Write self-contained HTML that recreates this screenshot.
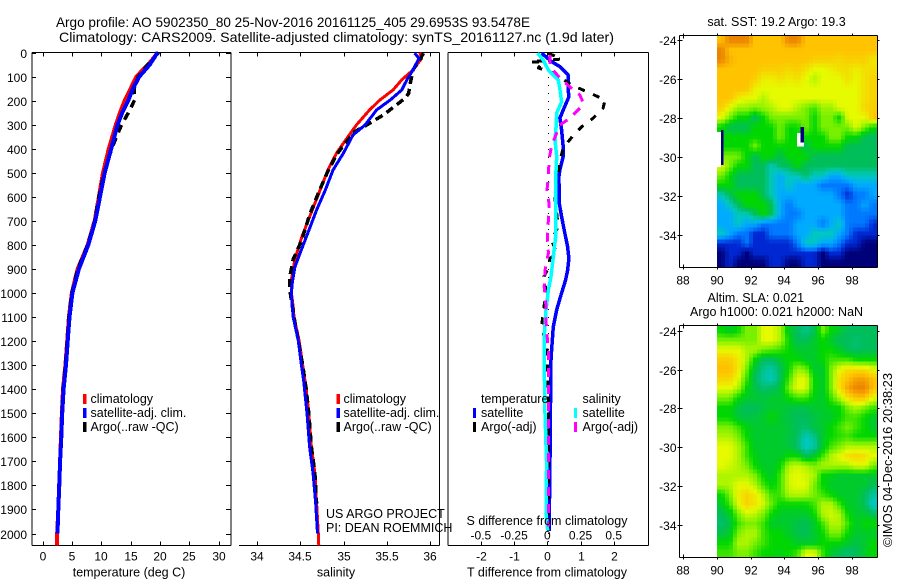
<!DOCTYPE html>
<html>
<head>
<meta charset="utf-8">
<title>Argo profile</title>
<style>
html,body{margin:0;padding:0;background:#fff;}
svg{display:block;}
text{font-family:"Liberation Sans",sans-serif;font-size:12.5px;fill:#000;}
.title{font-size:14px;}
.tl{font-size:12px;}
</style>
</head>
<body>
<svg id="chart" xmlns="http://www.w3.org/2000/svg" width="900" height="580" viewBox="0 0 900 580">
<rect x="0" y="0" width="900" height="580" fill="#fff"/>
<text class="title" x="56" y="27" textLength="474" lengthAdjust="spacingAndGlyphs">Argo profile: AO 5902350_80 25-Nov-2016 20161125_405 29.6953S 93.5478E</text>
<text class="title" x="59" y="42" textLength="555" lengthAdjust="spacingAndGlyphs">Climatology: CARS2009. Satellite-adjusted climatology: synTS_20161127.nc (1.9d later)</text>
<g id="maps"></g>
<g id="profiles"></g>

<text x="129" y="576.5" text-anchor="middle">temperature (deg C)</text>
<text x="336" y="576.5" text-anchor="middle">salinity</text>
<text x="547" y="576.5" text-anchor="middle">T difference from climatology</text>
<text x="547" y="525" text-anchor="middle">S difference from climatology</text>

<g>
<rect x="83" y="394" width="3.5" height="10" fill="#f00"/>
<text x="90.5" y="403">climatology</text>
<rect x="83" y="408" width="3.5" height="10" fill="#00f"/>
<text x="90.5" y="417">satellite-adj. clim.</text>
<rect x="83" y="422" width="3.5" height="10" fill="#000"/>
<text x="90.5" y="431">Argo(..raw -QC)</text>
</g>
<g>
<rect x="336.5" y="394" width="3.5" height="10" fill="#f00"/>
<text x="343.5" y="403">climatology</text>
<rect x="336.5" y="408" width="3.5" height="10" fill="#00f"/>
<text x="343.5" y="417">satellite-adj. clim.</text>
<rect x="336.5" y="422" width="3.5" height="10" fill="#000"/>
<text x="343.5" y="431">Argo(..raw -QC)</text>
</g>
<g>
<text x="481" y="403">temperature</text>
<rect x="473" y="408" width="3" height="10" fill="#00f"/>
<text x="481" y="417">satellite</text>
<rect x="473" y="422" width="3" height="10" fill="#000"/>
<text x="481" y="431">Argo(-adj)</text>
<text x="582.5" y="403">salinity</text>
<rect x="574" y="408" width="3" height="10" fill="#0ff"/>
<text x="582.5" y="417">satellite</text>
<rect x="574" y="422" width="3" height="10" fill="#f0f"/>
<text x="582.5" y="431">Argo(-adj)</text>
</g>

<text x="326" y="518">US ARGO PROJECT</text>
<text x="326" y="532">PI: DEAN ROEMMICH</text>

<text x="776.5" y="26" text-anchor="middle">sat. SST: 19.2 Argo: 19.3</text>
<text x="707.5" y="302">Altim. SLA: 0.021</text>
<text x="690" y="316">Argo h1000: 0.021 h2000: NaN</text>
<text transform="translate(892 547) rotate(-90)" textLength="174" lengthAdjust="spacingAndGlyphs">©IMOS 04-Dec-2016 20:38:23</text>
</svg>

<script>
// ---------- profile data ----------
const depthTicks = [0,100,200,300,400,500,600,700,800,900,1000,1100,1200,1300,1400,1500,1600,1700,1800,1900,2000];
const tempTicks = [0,5,10,15,20,25,30];
const salTicks = [34,34.5,35,35.5,36];
const salTickLabels = ['34','34.5','35','35.5','36'];
const tDiffTicks = [-2,-1,0,1,2];
const sDiffTicks = [-0.5,-0.25,0,0.25,0.5];
const sDiffTickLabels = ['-0.5','-0.25','0','0.25','0.5'];

const tempClimDepth = [0,50,100,150,200,250,300,400,500,600,700,800,900,1000,1100,1200,1300,1400,1500,1600,1700,1800,1900,2000,2050];
const tempClimValue = [19.7,18.0,16.0,15.0,14.0,13.2,12.5,11.3,10.3,9.6,8.9,7.7,6.0,5.0,4.5,4.2,3.9,3.5,3.3,3.15,3.0,2.87,2.7,2.5,2.45];
const tempSatDepth = [0,50,100,150,200,250,300,400,500,600,700,800,900,1000,1100,1200,1300,1400,1500,1600,1700,1800,1900,2000];
const tempSatValue = [19.6,18.3,16.5,15.4,14.6,13.6,12.8,11.7,10.6,9.8,9.0,7.8,6.2,5.1,4.6,4.3,4.0,3.6,3.35,3.2,3.0,2.85,2.7,2.55];
const tempArgoDepth = [0,40,100,150,197,252,300,350,400,500,600,700,800,900,1000,1100,1200,1300,1400,1500,1600,1700,1800,1900];
const tempArgoValue = [19.8,18.3,16.3,15.6,15.7,14.6,13.5,12.6,11.8,10.5,9.6,8.9,7.7,6.0,5.0,4.5,4.2,3.9,3.5,3.3,3.15,3.0,2.87,2.7];

const salClimDepth = [0,24,73,114,156,197,239,301,356,418,488,572,683,767,860,944,1000,1058,1100,1200,1300,1400,1500,1640,1750,1875,2000,2050];
const salClimValue = [35.88,35.9,35.8,35.67,35.57,35.42,35.3,35.15,35.04,34.92,34.82,34.73,34.61,34.52,34.44,34.4,34.4,34.42,34.43,34.49,34.53,34.57,34.6,34.63,34.67,34.69,34.71,34.715];
const salSatDepth = [3,24,73,114,156,197,239,301,343,418,488,572,655,750,834,892,958,1000,1058,1100,1200,1300,1362,1500,1640,1750,1875,2000];
const salSatValue = [35.82,35.87,35.8,35.73,35.67,35.54,35.38,35.25,35.11,35.0,34.88,34.79,34.69,34.59,34.5,34.44,34.41,34.4,34.41,34.42,34.48,34.515,34.54,34.58,34.61,34.65,34.68,34.7];
const salArgoDepth = [3,30,73,128,170,190,218,260,301,329,377,425,502,585,675,780,860,935,985,1030,1100,1200,1300,1400,1500,1640,1750,1875];
const salArgoValue = [35.92,35.88,35.8,35.77,35.75,35.71,35.61,35.46,35.27,35.13,35.02,34.92,34.81,34.71,34.61,34.52,34.42,34.38,34.38,34.4,34.43,34.48,34.53,34.57,34.6,34.63,34.67,34.69];

const dtSatDepth = [3,38,59,94,156,184,239,273,322,392,433,488,516,627,683,738,808,856,905,946,1000,1071,1140,1237,1278,1400,1600,1800,1990];
const dtSatValue = [-0.17,0.13,0.38,0.63,0.63,0.65,0.48,0.38,0.43,0.48,0.48,0.38,0.35,0.36,0.43,0.51,0.61,0.65,0.61,0.55,0.43,0.28,0.18,0.13,0.11,0.1,0.09,0.07,0.06];
const dtArgoDepth = [3,27,39,39,64,85,135,163,197,231,273,308,350,397,453,501,516,585,724,780,834,856,897,932,995,1057,1133,1182,1208,1400,1990];
const dtArgoValue = [0.03,0.43,-0.52,-0.13,-0.27,0.18,0.73,1.19,1.74,1.68,1.38,1.04,0.75,0.48,0.38,0.33,0.31,0.21,0.33,0.13,0.28,0.08,0.03,-0.1,-0.04,-0.1,-0.17,-0.1,-0.02,0.03,0.03];
const dsSatDepth = [3,31,73,114,156,205,252,308,364,433,516,543,765,849,932,988,1071,1182,1278,1500,1708,1916,1988];
const dsSatValue = [-0.072,-0.03,0.008,0.083,0.096,0.108,0.071,0.066,0.058,0.071,0.063,0.063,0.063,0.045,0.028,0.008,-0.01,-0.023,-0.023,-0.017,-0.005,-0.01,0.003];
const dsArgoDepth = [10,59,106,156,177,210,231,273,301,385,439,501,516,572,627,696,771,834,905,974,1029,1112,1154,1237,1400,1970];
const dsArgoValue = [0.02,0.02,0.096,0.196,0.246,0.27,0.246,0.17,0.096,0.033,0.015,0.008,0.008,-0.002,0.013,0.008,0,0.008,-0.017,-0.023,-0.012,-0.01,-0.005,0.008,0.01,0.01];

// ---------- map data (colour-scale levels 0..10, 0.5 deg lon, ~0.5 deg lat) ----------
const lonTicks = [88,90,92,94,96,98];
const latTicks = [24,26,28,30,32,34];
const sstGrid = [
[9,10,10,10,9,9,9,9,10,10,9,9,9,9,9,9,9,9,9],
[10,9,9,9,9,9,9,9,9,9,9,9,9,9,9,9,9,9,9],
[10,9.3,9,9,9,9,9,9,9,9,9,8.8,8.8,8.8,8.6,8.8,8.8,8.8,8.3],
[9,9,9,9,9,8.8,8.8,8.8,8.6,8.8,8.5,8,8,8.2,8.5,8.5,8.2,8.5,8.5],
[9,9,9,9,8.8,8.2,8.2,8.5,8.2,8.5,8,7.5,8,8,8,8.5,8,8.5,8.7],
[9,9,9,9,8.2,8,8,8,8,8,8,8,8,8,8,8,8,8.5,8.7],
[9,9,8.3,8,8,7.5,8,8,8,8,8,8,8,8,8,8,8,8.5,8.7],
[8.8,8,7.3,7.3,7,7.3,7.5,8,8,7.5,7,6.5,7.3,7.3,8,8,8,8.7,8.8],
[8,7,6,6,5,6,7,7,7,7,7,6,7,7,6,8,8,8,9],
[6,5,5,5,6,6,6,7,6,6,7,6,7,7,7,7,8,7,6],
[6,6,6,6,6,6,6,7,6,6,6,6,6,7,7,6,6,5,5],
[6,6,6,6,7,6,6,6,6,6,5,6,6,6,6,5,5,5,5],
[7,7,7,6,5,6,6,5,6,6,6,5,5,5,5,5,5,5,5],
[8,7,6,6,5,5,4,5,5,6,5,5,5,5,5,5,5,5,5],
[7,6,5,5,5,5,4,3,4,4,5,4,4,3,3,4,4,4,4],
[6,6,5,5,5,5,4,3,4,3,3,3,2,2,2,2,3,3,3],
[4,5,6,6,6,5,4,3,3,3,3,3,3,3,2,1,2,2,3],
[3,4,5,6,6,6,5,3,2,3,3,3,3,3,3,2,2,3,2],
[3,3,4,4,5,6,5,3,2,2,3,3,3,3,3,2,2,2,2],
[3,3,4,3,3,2,2,2,2,3,3,3,2,3,4,2,2,2,1],
[4,3,2,2,1,1,2,2,2,3,3,4,4,4,3,2,1,1,1],
[1,1,1,2,1,1,1,1,1,2,4,4,3,3,2,1,1,0,0],
[0,1,1,0,1,1,1,1,1,1,1,1,0,1,1,0,0,0,0],
[0,1,0,0,0,0,1,1,0,0,1,1,0,0,0,0,0,0,0]
];
const slaGrid = [
[6,5.5,6,7,7,8,8,7.5,5.5,5,4.5,5,7,6,5.5,5,5,5,5],
[7,7,7,7,7,8,8,7.5,6,5,5,5.5,6,5.5,5,5,4.8,5,5],
[8,8,8,7.5,7.5,7,6.8,6.5,6,5.5,5.5,5.5,6,6,5.5,5,4.8,5,5],
[8.8,8.8,8.3,7.5,6,5,5,5.5,6,6,5.5,5.5,6,6.5,6.5,6.5,6,6,6],
[9.1,9.1,8.4,7,5.3,4.5,4.2,5,6,7.3,7,5.5,5.5,7,8,8.5,8.5,8.5,8],
[8.7,8.7,8,6.5,5,4.3,4,5,6.5,7.9,8,6,5.5,7,8.5,9,9.5,9.5,9],
[8,8,7.5,6,5.2,4.8,5,5.3,7,8,7.9,6,5.5,7,8.5,9.5,10,10,9],
[7,7,6,5.5,5.5,5.3,5.5,5.5,6,6.5,6.5,5.8,5.5,6.5,7.5,8.5,9,9,8],
[6,6,5.3,5,5,5.3,5.5,5.5,5.3,5.2,5.2,5.5,5.5,5.8,6,7,7.5,7,6.5],
[6,6,5.3,5.2,5.3,5.5,6,5.5,5.2,5,5,5.2,5.5,5.5,6,6.5,6.5,6,5.5],
[7,7,6.5,5.8,5.5,5.5,5.5,5.5,5.3,5,4.8,5.3,5.5,6,6.5,7,6.5,6,5.5],
[7.5,7.5,7,6,5.5,5.5,5.5,5.5,5.3,5,4,4.5,5.5,6,6.3,6.5,6,6,6],
[8,8,7.5,6.5,5.5,5.5,5.5,5.5,5.3,4.8,3.8,4.2,5.5,6.5,7,7.5,7.5,7.5,7.5],
[8,8,7.5,6.5,5.8,5.5,5.5,5.5,6,6,5,5.5,6.5,7.5,8,8.5,8.7,8.5,8],
[8,7.8,7.5,7,6,5.5,5.5,6,7.5,7.8,7.5,7,7.5,7.5,7.5,7.5,8,8,7],
[7.5,7.5,7.5,7.5,7,6,5.5,6.5,7.8,8,7.8,7.5,6,5.8,5.5,5.5,5.5,5.5,5.5],
[7.5,7.5,8,8,7.5,6.5,5.8,6.5,7.8,8,8,7,6,5.5,5.5,5.5,5.5,5.5,5],
[6,7,8.2,8.7,8.3,7.5,6.5,6.5,7.5,7.6,7.5,7,6.5,6,5.5,5.5,5.5,5,4.3],
[5.5,6.5,8,8.7,8.4,7.8,6.8,6,6,6,6,6.5,7.5,7.5,6.5,5.5,5.5,5,3.8],
[5,5.5,7,7.8,7.6,7,6,5.5,5.5,5.5,5.5,6,7.5,7.8,7.5,6,5.5,5.5,5],
[4.8,5.2,6.5,7,7,6.5,5.5,5.5,5.5,5.2,5,5.5,6.5,7.5,7.5,6.5,5.5,6,6],
[5.2,5.5,7,7.5,7.5,6.5,6,6,5.5,5.2,5,5.5,6,7,7,6,5.5,5.5,5.5],
[6,6,7.5,7.5,7,6.5,6,6,6,5.5,5.5,5.5,6,6,6,5.5,5.2,5.5,6],
[6.5,6.5,7,7,6.5,6,6,5.8,6,6.5,8,8,6.5,5.5,5,4.8,5,5.5,6]
];
const colourStops = [[0,0,120],[0,40,210],[0,120,255],[0,170,255],[0,200,190],[0,190,90],[0,215,0],[120,240,0],[230,250,0],[255,195,0],[235,130,0]];

// ---------- scales ----------
const NS = 'http://www.w3.org/2000/svg';
const yDepth = d => 52.5 + d * 0.2405;
const xTemp = t => 42.5 + t * 5.87;
const xSal = s => 256.7 + (s - 34) * 86.8;
const xDT = v => 547.3 + v * 33.2;
const xDS = v => 547.3 + v * 132.8;
const MAPLEFT = 679.5, MAPRIGHT = 877.5, MAPW = 198;
const xLon = lon => 717 + (lon - 90) * 16.85;
const yLat1 = lat => 40.3 + (lat - 24) * 19.5;
const yLat2 = lat => 330.7 + (lat - 24) * 19.43;

function mk(tag, parent, attrs) {
  const e = document.createElementNS(NS, tag);
  for (const k in attrs) e.setAttribute(k, attrs[k]);
  parent.appendChild(e);
  return e;
}
const profiles = document.getElementById('profiles');
const maps = document.getElementById('maps');

function axisLine(x1, y1, x2, y2, parent) {
  const e = mk('line', parent, {x1, y1, x2, y2, stroke: '#000', 'stroke-width': 1, 'shape-rendering': 'crispEdges'});
  
  
  return e;
}
function tick(x1, y1, x2, y2, parent) {
  const e = mk('line', parent, {x1, y1, x2, y2, stroke: '#000', 'stroke-width': 1, 'shape-rendering': 'crispEdges'});
  
  
  return e;
}
function label(x, y, str, anchor, parent) {
  const e = mk('text', parent, {x, y, 'text-anchor': anchor, class: 'tl'});
  e.textContent = str;
  
  
  return e;
}
function series(depths, values, xf, colour, width, dash, name) {
  const pts = depths.map((d, i) => xf(values[i]).toFixed(1) + ',' + yDepth(d).toFixed(1)).join(' ');
  const e = mk('polyline', profiles, {points: pts, fill: 'none', stroke: colour, 'stroke-width': width, 'shape-rendering': 'crispEdges', 'stroke-linejoin': 'round'});
  if (dash) e.setAttribute('stroke-dasharray', dash);
  
  
  return e;
}

// ---------- panel frames ----------
const T = 52.5, B = 545.5;
// panel 1
axisLine(32, T, 231, T, profiles); axisLine(32, B, 231, B, profiles);
axisLine(32, T, 32, B, profiles); axisLine(231, T, 231, B, profiles);
depthTicks.forEach(d => {
  const y = Math.round(yDepth(d)) + 0.5;
  tick(32, y, 36, y, profiles);
  tick(226, y, 231, y, profiles);
  label(27, y + 4.5, String(d), 'end', profiles);
});
tempTicks.forEach(t => {
  const x = Math.round(xTemp(t)) + 0.5;
  tick(x, T, x, T + 4, profiles);
  tick(x, B - 4, x, B, profiles);
  label(x - 0.5, 560.5, String(t), 'middle', profiles);
});
// panel 2
axisLine(239, T, 439.5, T, profiles); axisLine(239, B, 439.5, B, profiles);
axisLine(439.5, T, 439.5, B, profiles);
salTicks.forEach((s, i) => {
  const x = Math.round(xSal(s)) + 0.5;
  tick(x, T, x, T + 4, profiles);
  tick(x, B - 4, x, B, profiles);
  label(x - 0.5, 560.5, salTickLabels[i], 'middle', profiles);
});
// panel 3
axisLine(448, T, 648.5, T, profiles); axisLine(448, B, 648.5, B, profiles);
axisLine(448, T, 448, B, profiles); axisLine(648.5, T, 648.5, B, profiles);
tDiffTicks.forEach(v => {
  const x = Math.round(xDT(v)) + 0.5;
  tick(x, T, x, T + 4, profiles);
  tick(x, B - 4, x, B, profiles);
  label(x, 560.5, String(v), 'middle', profiles);
});
sDiffTicks.forEach((v, i) => {
  label(xDS(v), 539.5, sDiffTickLabels[i], 'middle', profiles);
});
const zeroLine = mk('line', profiles, {x1: 548.5, y1: 53, x2: 548.5, y2: 545, stroke: '#000', 'stroke-width': 1, 'stroke-dasharray': '1 7', 'shape-rendering': 'crispEdges'});



// ---------- series ----------
series(tempClimDepth, tempClimValue, xTemp, '#f00', 4, null, 'temperature-climatology-line');
series(tempArgoDepth, tempArgoValue, xTemp, '#000', 3.5, '8 6', 'temperature-argo-line');
series(tempSatDepth, tempSatValue, xTemp, '#00f', 4, null, 'temperature-satellite-line');
series(salClimDepth, salClimValue, xSal, '#f00', 3, null, 'salinity-climatology-line');
series(salArgoDepth, salArgoValue, xSal, '#000', 3.5, '8 5', 'salinity-argo-line');
series(salSatDepth, salSatValue, xSal, '#00f', 3, null, 'salinity-satellite-line');
series(dtSatDepth, dtSatValue, xDT, '#00f', 3.5, null, 'difference-t-satellite-line');
series(dtArgoDepth, dtArgoValue, xDT, '#000', 3, '7 9', 'difference-t-argo-line');
series(dsSatDepth, dsSatValue, xDS, '#0ff', 3.5, null, 'difference-s-satellite-line');
series(dsArgoDepth, dsArgoValue, xDS, '#f0f', 3, '9 8', 'difference-s-argo-line');

// ---------- maps ----------
function colourFor(v) {
  const c = Math.max(0, Math.min(10, v));
  const i = Math.min(9, Math.floor(c));
  const f = c - i;
  const a = colourStops[i], b = colourStops[i + 1];
  return 'rgb(' + a.map((q, k) => Math.round(q + (b[k] - q) * f)).join(',') + ')';
}
function sample(grid, col, row) {
  const r = Math.max(0, Math.min(grid.length - 1, row));
  const c = Math.max(0, Math.min(grid[0].length - 1, col));
  const r0 = Math.floor(r), c0 = Math.floor(c);
  const r1 = Math.min(grid.length - 1, r0 + 1), c1 = Math.min(grid[0].length - 1, c0 + 1);
  const fr = r - r0, fc = c - c0;
  return (grid[r0][c0] * (1 - fc) + grid[r0][c1] * fc) * (1 - fr) + (grid[r1][c0] * (1 - fc) + grid[r1][c1] * fc) * fr;
}
function drawMap(grid, top, bottom, yLat, name) {
  const g = mk('g', maps, {});
  
  
  // ticks first, the image covers their inner part
  lonTicks.forEach(lon => {
    const x = Math.round(xLon(lon)) + 0.5;
    tick(x, top - 2, x, top + 3, g);
    tick(x, bottom - 3, x, bottom + 2, g);
    label(x - 0.5, bottom + 17, String(lon), 'middle', g);
  });
  latTicks.forEach(lat => {
    const y = Math.round(yLat(lat)) + 0.5;
    tick(MAPLEFT - 2, y, MAPLEFT + 3, y, g);
    tick(MAPRIGHT - 3, y, MAPRIGHT + 2, y, g);
    label(MAPLEFT - 3, y + 4.5, '-' + lat, 'end', g);
  });
  const step = 4;
  const left = xLon(90);
  const cw = (MAPRIGHT - left) / grid[0].length;
  const ch = (bottom - top) / grid.length;
  for (let py = top; py < bottom; py += step) {
    for (let px = left; px < MAPRIGHT; px += step) {
      const v = sample(grid, (px + step / 2 - left) / cw - 0.5, (py + step / 2 - top) / ch - 0.5);
      const w = Math.min(step, MAPRIGHT - px), h = Math.min(step, bottom - py);
      const r = mk('rect', g, {x: px, y: py, width: w, height: h, fill: colourFor(v), 'shape-rendering': 'crispEdges'});
      
      
    }
  }
  axisLine(MAPLEFT, top, MAPRIGHT, top, g);
  axisLine(MAPLEFT, bottom, MAPRIGHT, bottom, g);
  axisLine(MAPLEFT, top, MAPLEFT, bottom, g);
  axisLine(MAPRIGHT, top, MAPRIGHT, bottom, g);
  return g;
}
const sstMap = drawMap(sstGrid, 35.5, 267.5, yLat1, 'sst-map');
drawMap(slaGrid, 325.5, 557.5, yLat2, 'sla-map');

// missing-data patches on the SST map
function patch(lon0, lon1, lat0, lat1, colour, name) {
  const r = mk('rect', sstMap, {x: xLon(lon0), y: yLat1(lat0), width: xLon(lon1) - xLon(lon0), height: yLat1(lat1) - yLat1(lat0), fill: colour, 'shape-rendering': 'crispEdges'});
  
  
}
patch(90, 90.24, 28.7, 30.5, '#fff', 'sst-gap-west');
patch(90.24, 90.4, 28.6, 30.4, '#00007a', 'sst-gap-west-edge');
patch(94.75, 95.15, 28.75, 29.45, '#fff', 'sst-gap-centre');
patch(94.95, 95.15, 28.45, 29.25, '#00007a', 'sst-gap-centre-edge');
</script>
</body>
</html>
